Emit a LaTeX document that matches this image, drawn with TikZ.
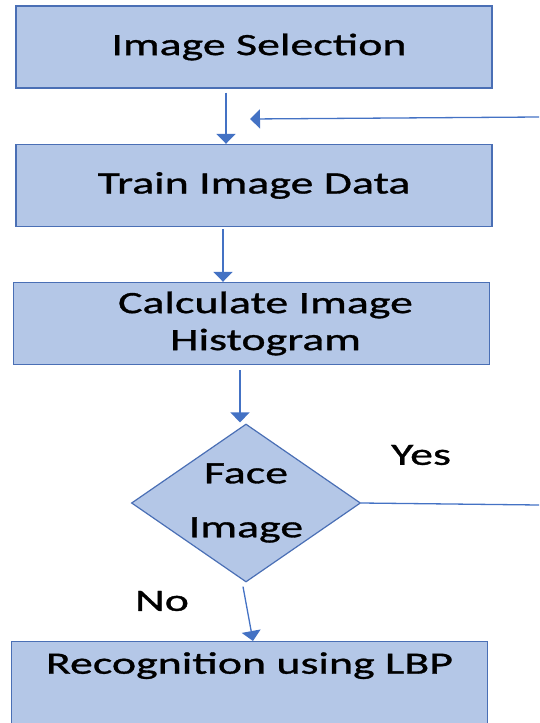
\documentclass[tikz,border=0pt]{standalone}
\usepackage{fontspec}
\setmainfont{Carlito}[FakeStretch=1.48,FakeBold=1]
\usetikzlibrary{shapes.geometric,arrows.meta}
\definecolor{boxfill}{HTML}{B4C7E7}
\definecolor{boxline}{HTML}{4A6FB5}
\definecolor{arrline}{HTML}{4472C4}
\tikzset{
  stepbox/.style={draw=boxline,fill=boxfill,line width=1.4pt,minimum width=476pt,
    minimum height=82pt,inner sep=0pt,font=\fontsize{31}{37}\selectfont,align=center},
  decision/.style={diamond,draw=boxline,fill=boxfill,line width=1.2pt,aspect=1.45,
    minimum width=226pt,minimum height=156pt,inner sep=0pt,
    font=\fontsize{31}{37}\selectfont,align=center},
  arr/.style={draw=arrline,line width=1.8pt,-{Triangle[width=19pt,length=10pt]}},
  lbl/.style={font=\fontsize{31}{37}\selectfont}
}
\begin{document}
\begin{tikzpicture}[x=1pt,y=-1pt]
      \clip (0,0) rectangle (539,723);
      \node[stepbox] (select) at (254,47) {\hspace*{10pt}Image Selection};
      \node[stepbox] (train) at (254,185.5) {Train Image Data};
      \node[stepbox] (hist) at (251.5,323.5) {\hspace*{28pt}Calculate Image\\\hspace*{28pt}Histogram};
      \node[decision] (face) at (246,503) {Face\\[17pt]Image};
      \node[stepbox,anchor=north,minimum height=0pt,text height=26pt,text depth=60pt,
        inner ysep=6pt] (recog) at (249.5,641) {Recognition using LBP};
      % loop back and yes branch
      \coordinate (loopin) at (539,117);
      \coordinate (loopend) at (250,119);
      \coordinate (yesout) at (539,505);
      \draw[arr] ([xshift=-28pt,yshift=-4pt]select.south) -- ([xshift=-28pt]train.north);
      \draw[arr,line width=1.3pt] (loopin) -- (loopend);
      \draw[arr] ([xshift=-31pt,yshift=-2pt]train.south) -- ([xshift=-28.5pt]hist.north);
      \draw[arr] ([xshift=-11.5pt,yshift=-5pt]hist.south) -- ([xshift=-6pt,yshift=1pt]face.north);
      \draw[arr,line width=1.3pt] ([xshift=-3pt,yshift=-4pt]face.south) -- ([xshift=3.5pt]recog.north);
      \draw[draw=arrline,line width=1.3pt] (face.east) -- (yesout);
      \node[lbl] (yes) at (421,455) {Yes};
      \node[lbl] (no) at (162,601) {No};
\end{tikzpicture}
\end{document}
